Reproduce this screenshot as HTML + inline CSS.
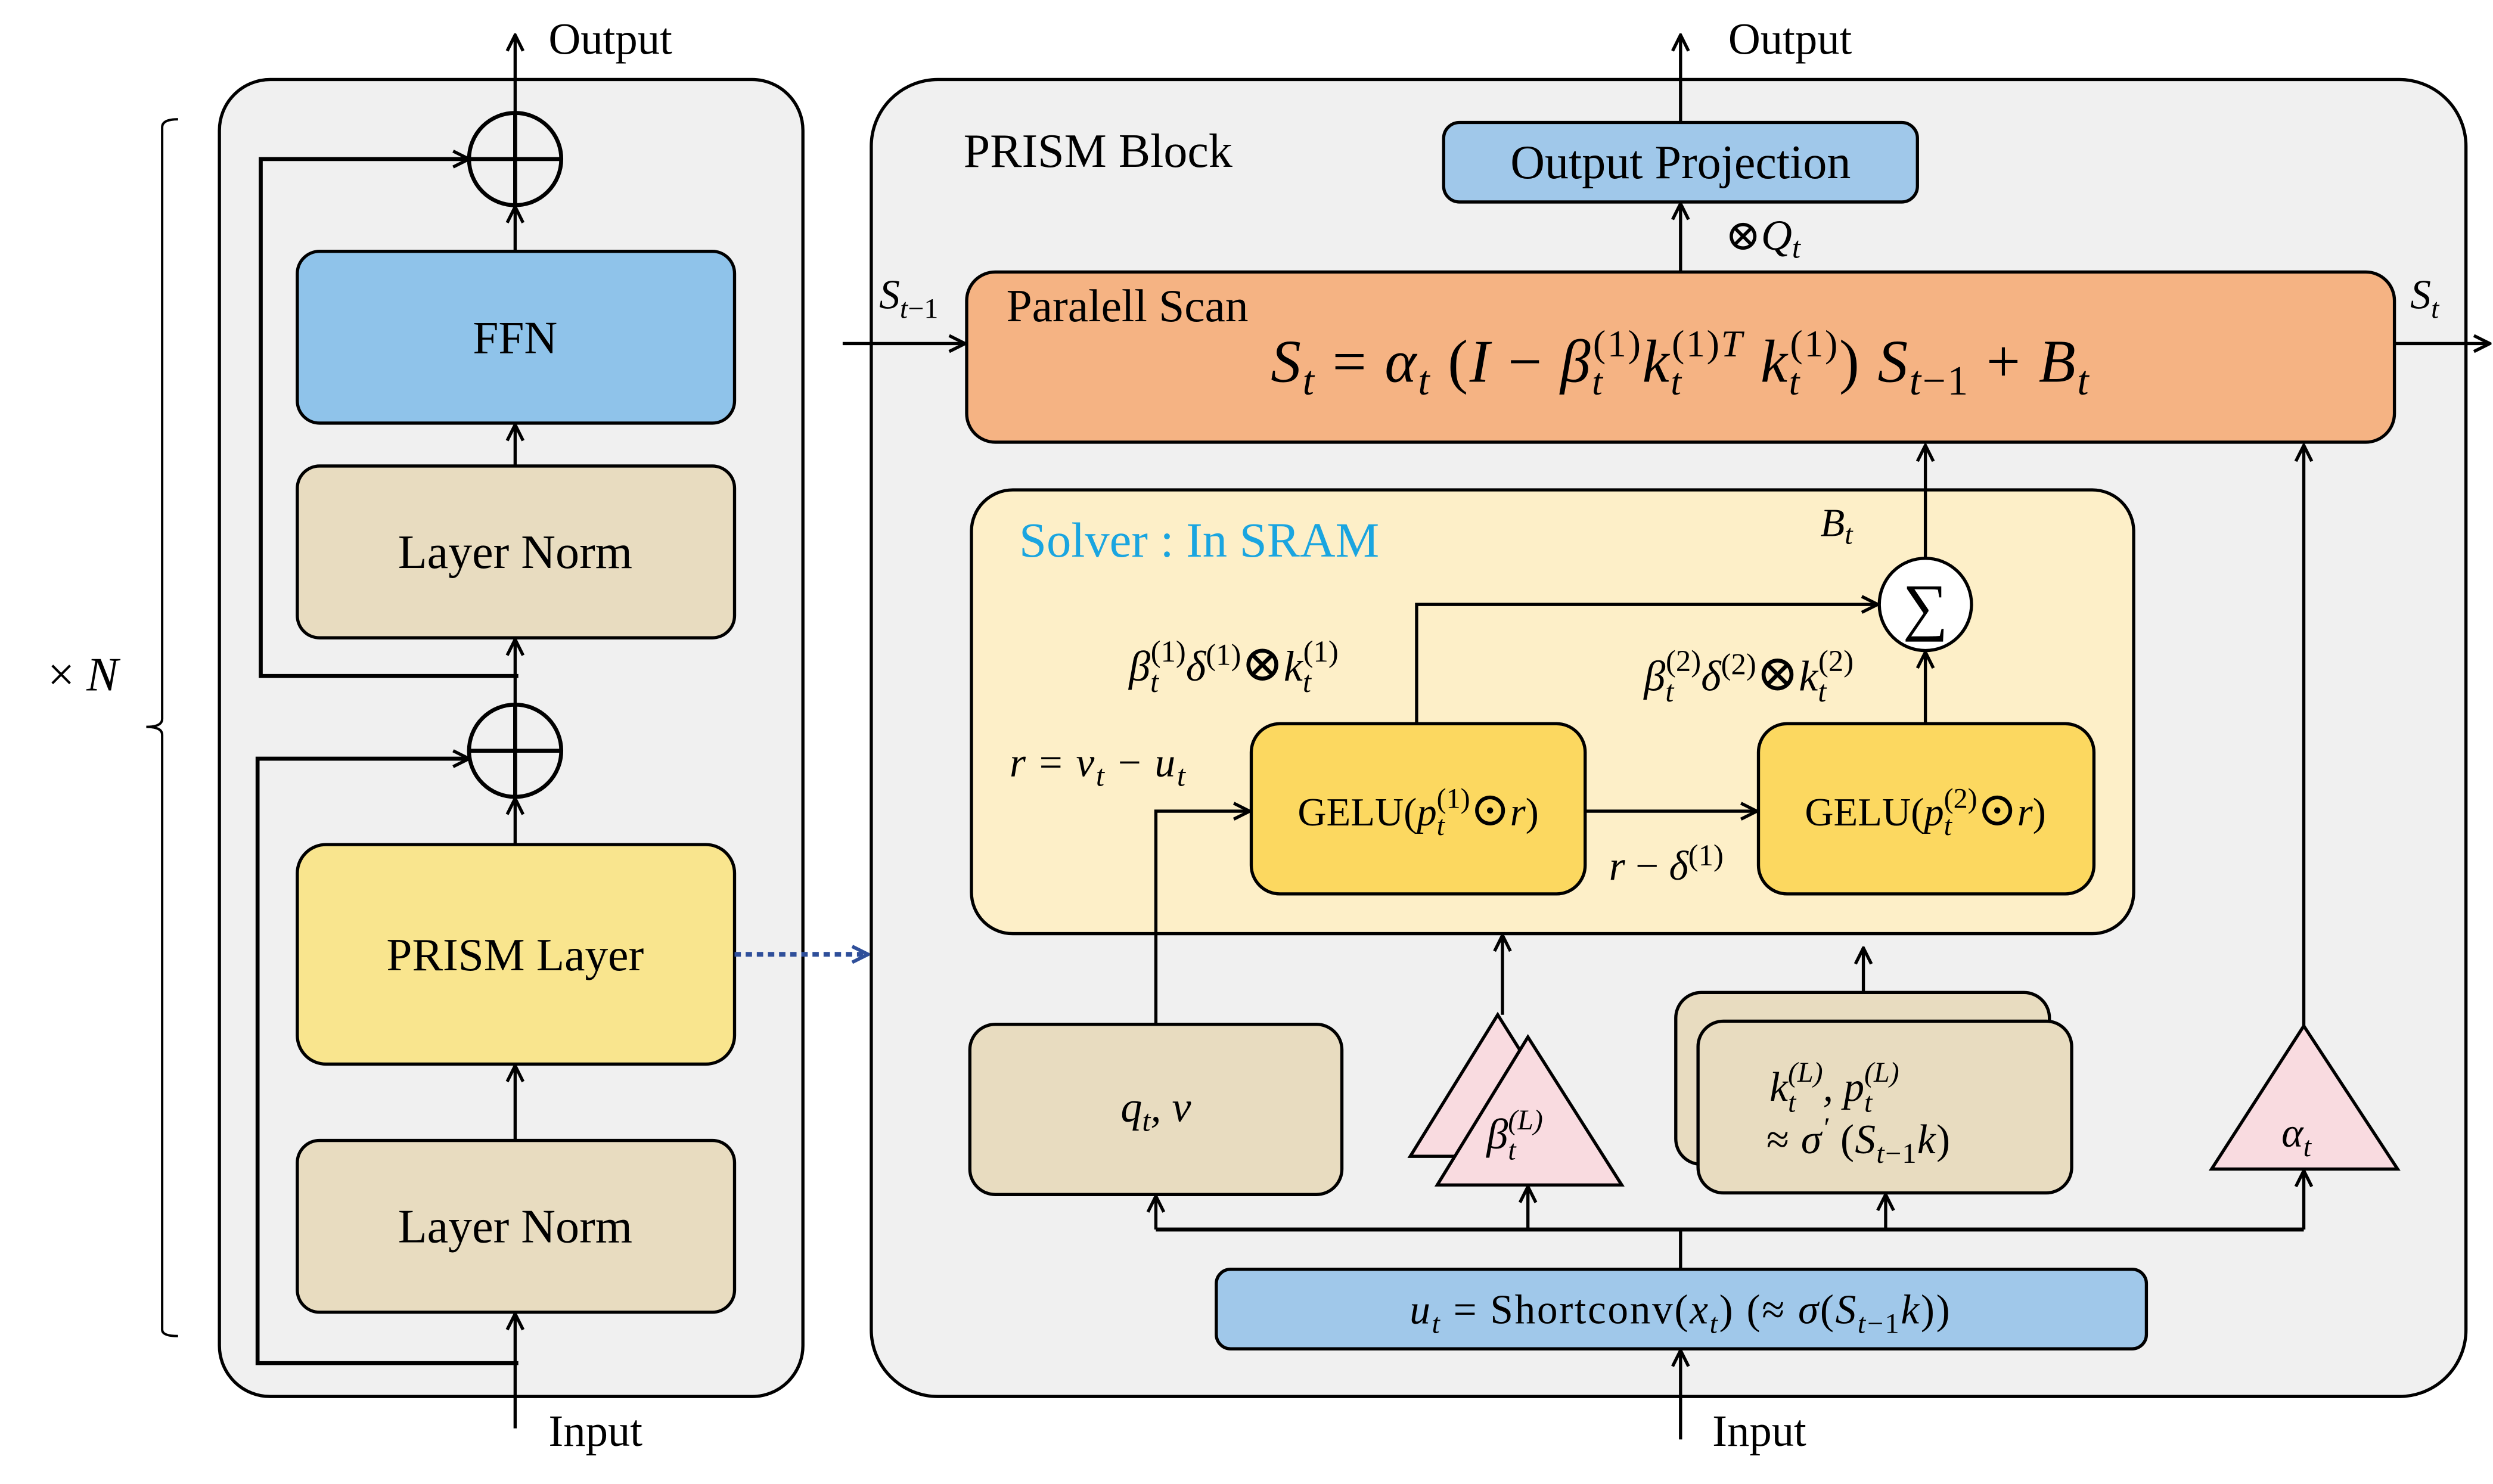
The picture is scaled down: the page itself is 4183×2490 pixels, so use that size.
<!DOCTYPE html>
<html><head><meta charset="utf-8">
<style>
html,body{margin:0;padding:0;background:#fff;}
svg{display:block;}
text{font-family:"Liberation Serif","DejaVu Serif",serif;fill:#000;}
.i{font-style:italic;}
</style></head>
<body>
<svg width="4183" height="2490" viewBox="0 0 1568 933" preserveAspectRatio="none" xmlns="http://www.w3.org/2000/svg">
<defs>
<marker id="a" viewBox="0 0 12 12" refX="11" refY="6" markerWidth="12" markerHeight="12" markerUnits="userSpaceOnUse" orient="auto">
<path d="M1,1 L11,6 L1,11" fill="none" stroke="#000" stroke-width="2"/>
</marker>
<marker id="b" viewBox="0 0 12 12" refX="11" refY="6" markerWidth="12" markerHeight="12" markerUnits="userSpaceOnUse" orient="auto">
<path d="M1,1 L11,6 L1,11" fill="none" stroke="#2f4f9a" stroke-width="2.2"/>
</marker>
</defs>
<rect width="1568" height="933" fill="#fff"/>

<!-- brace -->
<path d="M112,75 Q102,75 102,80 L102,452 Q102,457 92,457 Q102,457 102,462 L102,836 Q102,840 112,840" fill="none" stroke="#000" stroke-width="1.5"/>
<text x="30" y="434" font-size="30">× <tspan class="i">N</tspan></text>

<!-- left panel -->
<rect x="138" y="50" width="367" height="828" rx="32" fill="#f0f0f0" stroke="#000" stroke-width="2"/>
<rect x="187" y="158" width="275" height="108" rx="14" fill="#8fc3ea" stroke="#000" stroke-width="2"/>
<text x="324" y="222" font-size="29" text-anchor="middle">FFN</text>
<rect x="187" y="293" width="275" height="108" rx="14" fill="#e8dcc0" stroke="#000" stroke-width="2"/>
<text x="324" y="357" font-size="30" text-anchor="middle">Layer Norm</text>
<rect x="187" y="531" width="275" height="138" rx="18" fill="#f9e58e" stroke="#000" stroke-width="2"/>
<text x="324" y="610" font-size="29" text-anchor="middle">PRISM Layer</text>
<rect x="187" y="717" width="275" height="108" rx="14" fill="#e8dcc0" stroke="#000" stroke-width="2"/>
<text x="324" y="781" font-size="30" text-anchor="middle">Layer Norm</text>

<g stroke="#000" stroke-width="2.5" fill="none">
<circle cx="324" cy="100" r="29"/>
<line x1="295" y1="100" x2="353" y2="100"/><line x1="324" y1="71" x2="324" y2="129"/>
<circle cx="324" cy="472" r="29"/>
<line x1="295" y1="472" x2="353" y2="472"/><line x1="324" y1="443" x2="324" y2="501"/>
</g>
<g stroke="#000" stroke-width="2" fill="none" marker-end="url(#a)">
<line x1="324" y1="898" x2="324" y2="826"/>
<line x1="324" y1="717" x2="324" y2="670"/>
<line x1="324" y1="531" x2="324" y2="502"/>
<line x1="324" y1="443" x2="324" y2="402"/>
<line x1="324" y1="293" x2="324" y2="267"/>
<line x1="324" y1="158" x2="324" y2="130"/>
<line x1="324" y1="71" x2="324" y2="22"/>
</g>
<g stroke="#000" stroke-width="2.5" fill="none" marker-end="url(#a)">
<polyline points="326,857 162,857 162,477 295,477"/>
<polyline points="326,425 164,425 164,100 295,100"/>
</g>
<text x="345" y="34" font-size="28">Output</text>
<text x="345" y="909" font-size="28">Input</text>
<line x1="462" y1="600" x2="546" y2="600" stroke="#2f4f9a" stroke-width="3" stroke-dasharray="4,3" marker-end="url(#b)"/>

<!-- right panel -->
<rect x="548" y="50" width="1003" height="828" rx="42" fill="#f0f0f0" stroke="#000" stroke-width="2"/>
<text x="606" y="105" font-size="30">PRISM Block</text>
<rect x="908" y="77" width="298" height="50" rx="10" fill="#a0c8ea" stroke="#000" stroke-width="2"/>
<text x="1057" y="112" font-size="30" text-anchor="middle">Output Projection</text>
<line x1="1057" y1="77" x2="1057" y2="22" stroke="#000" stroke-width="2" marker-end="url(#a)"/>
<line x1="1057" y1="171" x2="1057" y2="128" stroke="#000" stroke-width="2" marker-end="url(#a)"/>
<text x="1087" y="34" font-size="28">Output</text>
<text x="1085" y="157" font-size="27">⊗<tspan class="i">Q</tspan><tspan class="i" font-size="19" dy="5">t</tspan></text>

<rect x="608" y="171" width="898" height="107" rx="18" fill="#f5b383" stroke="#000" stroke-width="2"/>
<text x="633" y="202" font-size="29">Paralell Scan</text>
<text x="1057" y="240" font-size="38" text-anchor="middle" class="i" letter-spacing="1">S<tspan font-size="26" dy="8">t</tspan><tspan dy="-8" font-style="normal"> = </tspan>α<tspan font-size="26" dy="8">t</tspan><tspan dy="-8" font-style="normal"> (</tspan>I<tspan font-style="normal"> − </tspan>β<tspan font-size="24" dy="8">t</tspan><tspan font-size="24" dy="-24" dx="-7" font-style="normal">(1)</tspan><tspan dy="16">k</tspan><tspan font-size="24" dy="8">t</tspan><tspan font-size="24" dy="-24" dx="-7" font-style="normal">(1)</tspan><tspan font-size="24">T</tspan><tspan dy="16"> k</tspan><tspan font-size="24" dy="8">t</tspan><tspan font-size="24" dy="-24" dx="-7" font-style="normal">(1)</tspan><tspan dy="16" font-style="normal">) </tspan>S<tspan font-size="26" dy="8">t</tspan><tspan font-size="26" font-style="normal">−1</tspan><tspan dy="-8" font-style="normal"> + </tspan>B<tspan font-size="26" dy="8">t</tspan></text>
<line x1="530" y1="216" x2="607" y2="216" stroke="#000" stroke-width="2" marker-end="url(#a)"/>
<line x1="1506" y1="216" x2="1566" y2="216" stroke="#000" stroke-width="2" marker-end="url(#a)"/>
<text x="553" y="194" font-size="26" class="i">S<tspan font-size="18" dy="6">t</tspan><tspan font-size="18" font-style="normal">−1</tspan></text>
<text x="1516" y="194" font-size="26" class="i">S<tspan font-size="18" dy="6">t</tspan></text>

<!-- solver -->
<rect x="611" y="308" width="731" height="279" rx="26" fill="#fdefc8" stroke="#000" stroke-width="2"/>
<text x="641" y="350" font-size="31" style="fill:#1aa5e0">Solver : In SRAM</text>
<text x="1145" y="337" font-size="25" class="i">B<tspan font-size="18" dy="5">t</tspan></text>
<circle cx="1211" cy="380" r="29" fill="#fff" stroke="#000" stroke-width="2"/>
<text x="1211" y="395" font-size="40" text-anchor="middle">∑</text>
<line x1="1211" y1="351" x2="1211" y2="280" stroke="#000" stroke-width="2" marker-end="url(#a)"/>

<rect x="787" y="455" width="210" height="107" rx="18" fill="#fcd860" stroke="#000" stroke-width="2"/>
<text x="892" y="519" font-size="25" text-anchor="middle">GELU(<tspan class="i">p</tspan><tspan class="i" font-size="18" dy="6">t</tspan><tspan font-size="18" dy="-17" dx="-5">(1)</tspan><tspan dy="11" font-size="30">⊙</tspan><tspan class="i">r</tspan>)</text>
<rect x="1106" y="455" width="211" height="107" rx="18" fill="#fcd860" stroke="#000" stroke-width="2"/>
<text x="1211" y="519" font-size="25" text-anchor="middle">GELU(<tspan class="i">p</tspan><tspan class="i" font-size="18" dy="6">t</tspan><tspan font-size="18" dy="-17" dx="-5">(2)</tspan><tspan dy="11" font-size="30">⊙</tspan><tspan class="i">r</tspan>)</text>

<g stroke="#000" stroke-width="2" fill="none" marker-end="url(#a)">
<polyline points="891,455 891,380 1181,380"/>
<line x1="1211" y1="455" x2="1211" y2="410"/>
<line x1="997" y1="510" x2="1105" y2="510"/>
<polyline points="727,644 727,510 786,510"/>
<line x1="945" y1="638" x2="945" y2="588"/>
<line x1="1172" y1="624" x2="1172" y2="596"/>
<line x1="1449" y1="645" x2="1449" y2="280"/>
</g>
<text x="710" y="428" font-size="27" class="i">β<tspan font-size="19" dy="7">t</tspan><tspan font-size="19" dy="-19" dx="-5" font-style="normal">(1)</tspan><tspan dy="12">δ</tspan><tspan font-size="19" dy="-10" font-style="normal">(1)</tspan><tspan dy="10" font-style="normal" font-size="32">⊗</tspan>k<tspan font-size="19" dy="7">t</tspan><tspan font-size="19" dy="-19" dx="-5" font-style="normal">(1)</tspan></text>
<text x="1034" y="434" font-size="27" class="i">β<tspan font-size="19" dy="7">t</tspan><tspan font-size="19" dy="-19" dx="-5" font-style="normal">(2)</tspan><tspan dy="12">δ</tspan><tspan font-size="19" dy="-10" font-style="normal">(2)</tspan><tspan dy="10" font-style="normal" font-size="32">⊗</tspan>k<tspan font-size="19" dy="7">t</tspan><tspan font-size="19" dy="-19" dx="-5" font-style="normal">(2)</tspan></text>
<text x="635" y="488" font-size="26" class="i" letter-spacing="1">r<tspan font-style="normal"> = </tspan>v<tspan font-size="19" dy="6">t</tspan><tspan dy="-6" font-style="normal"> − </tspan>u<tspan font-size="19" dy="6">t</tspan></text>
<text x="1012" y="553" font-size="26" class="i">r<tspan font-style="normal"> − </tspan>δ<tspan font-size="19" dy="-9" font-style="normal">(1)</tspan></text>

<!-- bottom inputs -->
<rect x="610" y="644" width="234" height="107" rx="16" fill="#e8dcc0" stroke="#000" stroke-width="2"/>
<text x="727" y="705" font-size="27" text-anchor="middle" class="i">q<tspan font-size="19" dy="6">t</tspan><tspan dy="-6">, v</tspan></text>

<polygon points="942,638 887,727 998,727" fill="#f9dbe0" stroke="#000" stroke-width="2"/>
<polygon points="961,652 904,745 1020,745" fill="#f9dbe0" stroke="#000" stroke-width="2"/>
<text x="935" y="722" font-size="27" class="i">β<tspan font-size="18" dy="7">t</tspan><tspan font-size="18" dy="-19" dx="-5">(L)</tspan></text>

<rect x="1054" y="624" width="235" height="108" rx="16" fill="#e8dcc0" stroke="#000" stroke-width="2"/>
<rect x="1068" y="642" width="235" height="108" rx="16" fill="#e8dcc0" stroke="#000" stroke-width="2"/>
<text x="1113" y="692" font-size="26" class="i">k<tspan font-size="18" dy="7">t</tspan><tspan font-size="18" dy="-19" dx="-5">(L)</tspan><tspan dy="12">, p</tspan><tspan font-size="18" dy="7">t</tspan><tspan font-size="18" dy="-19" dx="-5">(L)</tspan></text>
<text x="1111" y="725" font-size="26" class="i" letter-spacing="0.5"><tspan font-style="normal">≈ </tspan>σ<tspan font-size="18" dy="-10">′</tspan><tspan dy="10" font-style="normal"> (</tspan>S<tspan font-size="18" dy="6">t</tspan><tspan font-size="18" font-style="normal">−1</tspan><tspan dy="-6">k</tspan><tspan font-style="normal">)</tspan></text>

<polygon points="1449,645 1391,735 1508,735" fill="#f9dbe0" stroke="#000" stroke-width="2"/>
<text x="1435" y="721" font-size="26" class="i">α<tspan font-size="18" dy="6">t</tspan></text>

<g stroke="#000" stroke-width="2" fill="none">
<line x1="727" y1="773" x2="1449" y2="773" stroke-width="2.5"/>
<line x1="1057" y1="798" x2="1057" y2="773"/>
</g>
<g stroke="#000" stroke-width="2" fill="none" marker-end="url(#a)">
<line x1="727" y1="773" x2="727" y2="752"/>
<line x1="961" y1="773" x2="961" y2="746"/>
<line x1="1186" y1="773" x2="1186" y2="751"/>
<line x1="1449" y1="773" x2="1449" y2="736"/>
<line x1="1057" y1="905" x2="1057" y2="849"/>
</g>
<rect x="765" y="798" width="585" height="50" rx="9" fill="#a0c8ea" stroke="#000" stroke-width="2"/>
<text x="1057" y="832" font-size="26" text-anchor="middle" letter-spacing="1"><tspan class="i">u</tspan><tspan class="i" font-size="18" dy="6">t</tspan><tspan dy="-6"> =  Shortconv(</tspan><tspan class="i">x</tspan><tspan class="i" font-size="18" dy="6">t</tspan><tspan dy="-6">)  (≈ </tspan><tspan class="i">σ</tspan>(<tspan class="i">S</tspan><tspan class="i" font-size="18" dy="6">t</tspan><tspan font-size="18">−1</tspan><tspan class="i" dy="-6">k</tspan>))</text>
<text x="1077" y="909" font-size="28">Input</text>
</svg>
</body></html>
